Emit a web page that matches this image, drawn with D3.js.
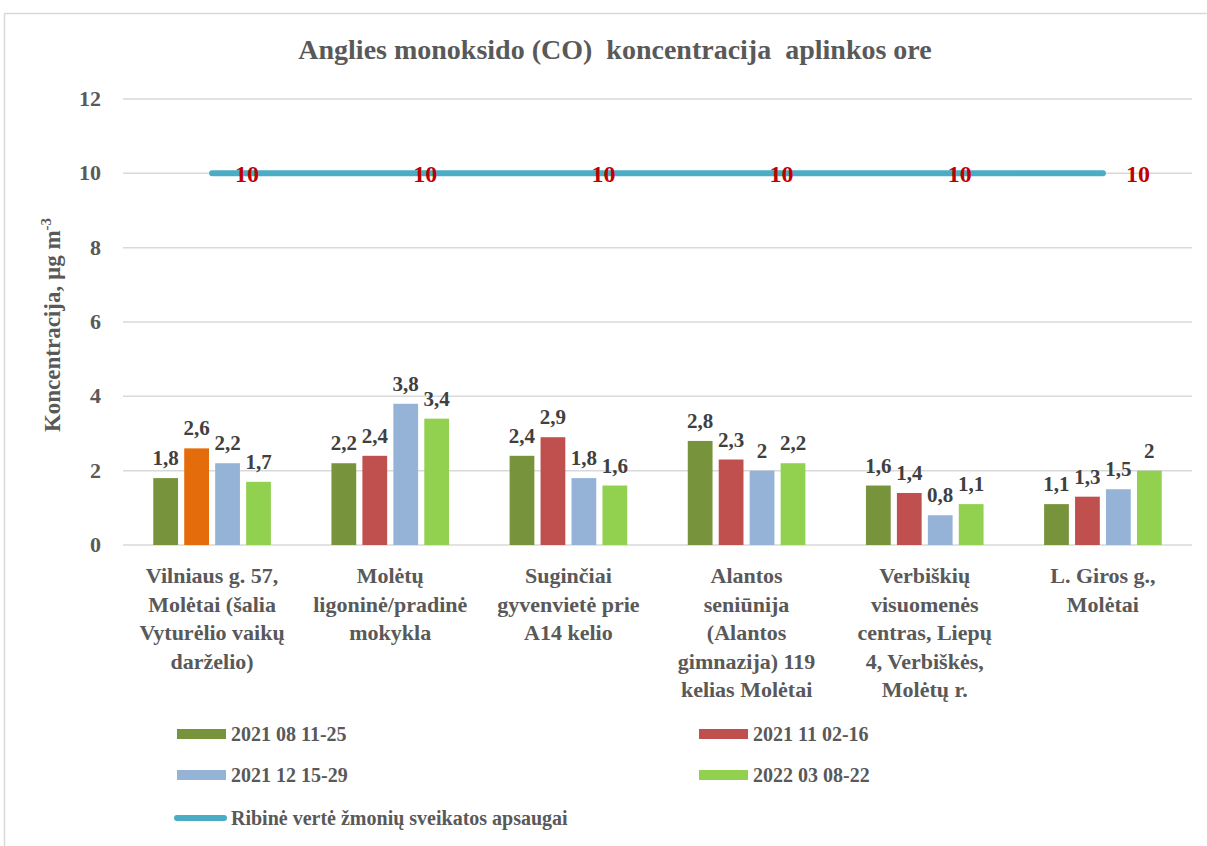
<!DOCTYPE html>
<html>
<head>
<meta charset="utf-8">
<script src="https://cdn.jsdelivr.net/npm/d3@7"></script>
<style>
body { margin: 0; background: #fff; }
</style>
</head>
<body>
<div id="chart"></div>
<script>
let categories = [
  ["Vilniaus g. 57,", "Molėtai (šalia", "Vyturėlio vaikų", "darželio)"],
  ["Molėtų", "ligoninė/pradinė", "mokykla"],
  ["Suginčiai", "gyvenvietė prie", "A14 kelio"],
  ["Alantos", "seniūnija", "(Alantos", "gimnazija) 119", "kelias Molėtai"],
  ["Verbiškių", "visuomenės", "centras, Liepų", "4, Verbiškės,", "Molėtų r."],
  ["L. Giros g.,", "Molėtai"]
]

let series_names = ["2021 08 11-25", "2021 11 02-16", "2021 12 15-29", "2022 03 08-22"]
let series_colors = ["#77933C", "#C0504D", "#95B3D7", "#92D050"]

let s_2021_08 = [1.8, 2.2, 2.4, 2.8, 1.6, 1.1]
let s_2021_11 = [2.6, 2.4, 2.9, 2.3, 1.4, 1.3]
let s_2021_12 = [2.2, 3.8, 1.8, 2, 0.8, 1.5]
let s_2022_03 = [1.7, 3.4, 1.6, 2.2, 1.1, 2]

let limit_name = "Ribinė vertė žmonių sveikatos apsaugai"
let limit_values = [10, 10, 10, 10, 10, 10]

let y_ticks = [0, 2, 4, 6, 8, 10, 12]

// first point of the 2nd series is coloured differently in the original
let point_overrides = {"1_0": "#E46C0A"}

let all_series = [s_2021_08, s_2021_11, s_2021_12, s_2022_03]

let width = 1207, height = 846
let margin = {left: 123, right: 15, top: 99, bottom: 301}
let font = "'Liberation Serif', Tinos, 'DejaVu Serif', serif"

let svg = d3.select("#chart").append("svg")
  .attr("width", width)
  .attr("height", height)
  .style("font-family", font)
  .style("font-weight", "bold")

svg.append("rect")
  .attr("x", 4.5).attr("y", 13.5)
  .attr("width", 1220).attr("height", 850)
  .attr("fill", "white")
  .attr("stroke", "#D9D9D9")
  .attr("stroke-width", 1.5)

let x0 = d3.scaleBand()
  .domain(d3.range(categories.length))
  .range([margin.left, width - margin.right])

let x1 = d3.scaleBand()
  .domain(d3.range(series_names.length))
  .range([-65, 65])
  .padding(0.2)

let y = d3.scaleLinear()
  .domain([0, 12])
  .range([height - margin.bottom, margin.top])

// grid
svg.append("g")
  .selectAll("line")
  .data(y_ticks)
  .join("line")
  .attr("x1", margin.left)
  .attr("x2", width - margin.right)
  .attr("y1", d => y(d))
  .attr("y2", d => y(d))
  .attr("stroke", "#D9D9D9")
  .attr("stroke-width", 1.5)

// y tick labels
svg.append("g")
  .selectAll("text")
  .data(y_ticks)
  .join("text")
  .attr("x", 101)
  .attr("y", d => y(d) + 7)
  .attr("text-anchor", "end")
  .attr("fill", "#595959")
  .attr("font-size", 22)
  .text(d => d)

// title
svg.append("text")
  .attr("x", 615)
  .attr("y", 59)
  .attr("text-anchor", "middle")
  .attr("fill", "#595959")
  .attr("font-size", 28)
  .attr("xml:space", "preserve")
  .text("Anglies monoksido (CO)  koncentracija  aplinkos ore")

// y axis title
let yt = svg.append("text")
  .attr("transform", "translate(60," + (y(6) + 3) + ") rotate(-90)")
  .attr("text-anchor", "middle")
  .attr("fill", "#595959")
  .attr("font-size", 23)
yt.append("tspan").text("Koncentracija, µg m")
yt.append("tspan").attr("dy", -9).attr("font-size", 15).text("-3")

// bars
let groups = svg.append("g")
  .selectAll("g")
  .data(all_series)
  .join("g")

groups.selectAll("rect")
  .data((s, si) => s.map((v, ci) => ({v: v, si: si, ci: ci})))
  .join("rect")
  .attr("x", d => x0(d.ci) + x0.bandwidth() / 2 + x1(d.si))
  .attr("y", d => y(d.v))
  .attr("width", x1.bandwidth())
  .attr("height", d => y(0) - y(d.v))
  .attr("fill", d => point_overrides[d.si + "_" + d.ci] || series_colors[d.si])

groups.selectAll("text")
  .data((s, si) => s.map((v, ci) => ({v: v, si: si, ci: ci})))
  .join("text")
  .attr("x", d => x0(d.ci) + x0.bandwidth() / 2 + x1(d.si) + x1.bandwidth() / 2)
  .attr("y", d => y(d.v) - 13)
  .attr("text-anchor", "middle")
  .attr("fill", "#404040")
  .attr("font-size", 21)
  .text(d => String(d.v).replace(".", ","))

// limit line
let line = d3.line()
  .x((d, i) => x0(i) + x0.bandwidth() / 2)
  .y(d => y(d))

svg.append("path")
  .datum(limit_values)
  .attr("d", line)
  .attr("fill", "none")
  .attr("stroke", "#4BACC6")
  .attr("stroke-width", 6)
  .attr("stroke-linecap", "round")

svg.append("g")
  .selectAll("text")
  .data(limit_values)
  .join("text")
  .attr("x", (d, i) => x0(i) + x0.bandwidth() / 2 + 35)
  .attr("y", d => y(d) + 9)
  .attr("text-anchor", "middle")
  .attr("fill", "#C00000")
  .attr("font-size", 24)
  .text(d => d)

// category labels
svg.append("g")
  .selectAll("text")
  .data(categories)
  .join("text")
  .attr("text-anchor", "middle")
  .attr("fill", "#595959")
  .attr("font-size", 22)
  .each(function(lines, i) {
    d3.select(this).selectAll("tspan")
      .data(lines)
      .join("tspan")
      .attr("x", x0(i) + x0.bandwidth() / 2)
      .attr("y", (l, j) => 583 + j * 28.5)
      .text(l => l)
  })

// legend
let legend_items = [
  {name: series_names[0], color: series_colors[0], x: 177, y: 734},
  {name: series_names[1], color: series_colors[1], x: 699, y: 734},
  {name: series_names[2], color: series_colors[2], x: 177, y: 775},
  {name: series_names[3], color: series_colors[3], x: 699, y: 775}
]

let leg = svg.append("g")
leg.selectAll("rect")
  .data(legend_items)
  .join("rect")
  .attr("x", d => d.x)
  .attr("y", d => d.y - 5)
  .attr("width", 49)
  .attr("height", 10)
  .attr("fill", d => d.color)

leg.selectAll("text")
  .data(legend_items)
  .join("text")
  .attr("x", d => d.x + 54)
  .attr("y", d => d.y + 7)
  .attr("fill", "#595959")
  .attr("font-size", 20)
  .text(d => d.name)

leg.append("line")
  .attr("x1", 177).attr("x2", 224)
  .attr("y1", 818).attr("y2", 818)
  .attr("stroke", "#4BACC6")
  .attr("stroke-width", 6)
  .attr("stroke-linecap", "round")

leg.append("text")
  .attr("x", 231)
  .attr("y", 825)
  .attr("fill", "#595959")
  .attr("font-size", 20)
  .text(limit_name)
</script>
</body>
</html>
